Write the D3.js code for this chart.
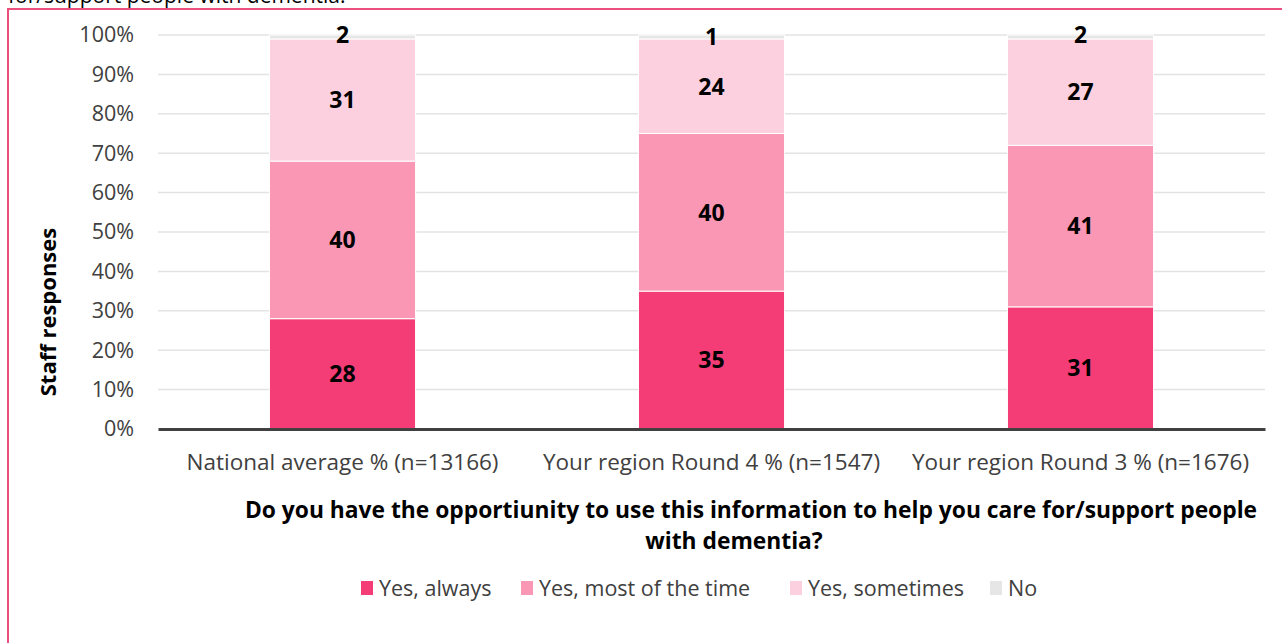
<!DOCTYPE html>
<html>
<head>
<meta charset="utf-8">
<script src="https://cdn.jsdelivr.net/npm/d3@7"></script>
<style>
  body { margin: 0; background: #fff; }
  svg { display: block; font-family: "Open Sans", "Noto Sans", sans-serif; }
</style>
</head>
<body>
<svg id="chart" width="1282" height="643"></svg>
<script>
const categories = [
    'National average % (n=13166)',
    'Your region Round 4 % (n=1547)',
    'Your region Round 3 % (n=1676)'
];
const seriesNames = ['Yes, always', 'Yes, most of the time', 'Yes, sometimes', 'No'];
const yesAlways = [28, 35, 31];
const yesMost = [40, 40, 41];
const yesSometimes = [31, 24, 27];
const no = [2, 1, 2];
const yTicks = [0, 10, 20, 30, 40, 50, 60, 70, 80, 90, 100];

const colors = ['#f43d76', '#f997b5', '#fcd0df', '#e6e6e6'];

const svg = d3.select('#chart');
const margin = { top: 35, left: 158, right: 17, bottom: 214 };
const width = 1282, height = 643;

// frame and the caption cut off above it
svg.append('text')
    .attr('x', 8).attr('y', 3)
    .attr('font-size', 21).attr('fill', '#000')
    .text('for/support people with dementia.');
svg.append('rect')
    .attr('x', 8).attr('y', 9)
    .attr('width', 1300).attr('height', 700)
    .attr('fill', 'none').attr('stroke', '#ec4f7e').attr('stroke-width', 2);

let x = d3.scaleBand()
    .domain(categories)
    .range([margin.left, width - margin.right])
    .paddingInner(0.604)
    .paddingOuter(0.302);
let y = d3.scaleLinear()
    .domain([0, 100])
    .range([height - margin.bottom, margin.top]);

// gridlines
svg.append('g')
    .selectAll('line')
    .data(yTicks.slice(1))
    .enter().append('line')
    .attr('x1', margin.left).attr('x2', width - margin.right)
    .attr('y1', d => y(d)).attr('y2', d => y(d))
    .attr('stroke', '#e3e3e3').attr('stroke-width', 1.5);

// y axis labels
let yAxis = svg.append('g')
    .attr('transform', 'translate(' + margin.left + ',0)')
    .call(d3.axisLeft(y).tickValues(yTicks).tickFormat(d => d + '%').tickSize(0).tickPadding(24));
yAxis.select('.domain').remove();
yAxis.selectAll('text')
    .attr('font-size', 21.5).attr('fill', '#404040')
    .attr('font-family', '"Open Sans", sans-serif');

// stacked data
let rows = categories.map((c, i) => ({
    cat: c,
    'Yes, always': yesAlways[i],
    'Yes, most of the time': yesMost[i],
    'Yes, sometimes': yesSometimes[i],
    'No': no[i]
}));
let stacked = d3.stack().keys(seriesNames)(rows);

let layers = svg.append('g')
    .selectAll('g')
    .data(stacked)
    .enter().append('g')
    .attr('fill', (d, i) => colors[i]);

// the chart stops at 100%, so the rounding overflow is cut off
layers.selectAll('rect')
    .data(d => d)
    .enter().append('rect')
    .attr('x', d => x(d.data.cat))
    .attr('width', x.bandwidth())
    .attr('y', d => y(Math.min(d[1], 100)))
    .attr('height', d => y(d[0]) - y(Math.min(d[1], 100)))
    .attr('stroke', '#fff').attr('stroke-width', 1);

// value labels
layers.selectAll('text')
    .data(d => d)
    .enter().append('text')
    .attr('x', d => x(d.data.cat) + x.bandwidth() / 2)
    .attr('y', d => y((d[0] + d[1]) / 2))
    .attr('dy', '0.36em')
    .attr('text-anchor', 'middle')
    .attr('font-size', 23).attr('font-weight', 'bold').attr('fill', '#000')
    .text(d => d[1] - d[0]);

// x axis
let xAxis = svg.append('g')
    .attr('transform', 'translate(0,' + y(0) + ')')
    .call(d3.axisBottom(x).tickSize(0).tickPadding(25));
xAxis.select('.domain')
    .attr('stroke', '#404040').attr('stroke-width', 3);
xAxis.selectAll('text')
    .attr('font-size', 22.5).attr('fill', '#404040')
    .attr('font-family', '"Open Sans", sans-serif');

// axis titles
svg.append('text')
    .attr('transform', 'translate(48,312) rotate(-90)')
    .attr('text-anchor', 'middle')
    .attr('dy', '0.35em')
    .attr('font-size', 22).attr('font-weight', 'bold').attr('fill', '#000')
    .text('Staff responses');

let xTitle = svg.append('text')
    .attr('text-anchor', 'middle')
    .attr('font-size', 22.8).attr('font-weight', 'bold').attr('fill', '#000');
xTitle.append('tspan').attr('x', 751).attr('y', 518)
    .text('Do you have the opportiunity to use this information to help you care for/support people');
xTitle.append('tspan').attr('x', 734).attr('y', 549)
    .text('with dementia?');

// legend
let legendX = [361, 521, 790, 990];
let legend = svg.append('g')
    .selectAll('g')
    .data(seriesNames)
    .enter().append('g')
    .attr('transform', (d, i) => 'translate(' + legendX[i] + ',588)');
legend.append('rect')
    .attr('x', 0).attr('y', -7)
    .attr('width', 12).attr('height', 14)
    .attr('fill', (d, i) => colors[i]);
legend.append('text')
    .attr('x', 18).attr('dy', '0.36em')
    .attr('font-size', 21.5).attr('fill', '#404040')
    .text(d => d);
</script>
</body>
</html>
